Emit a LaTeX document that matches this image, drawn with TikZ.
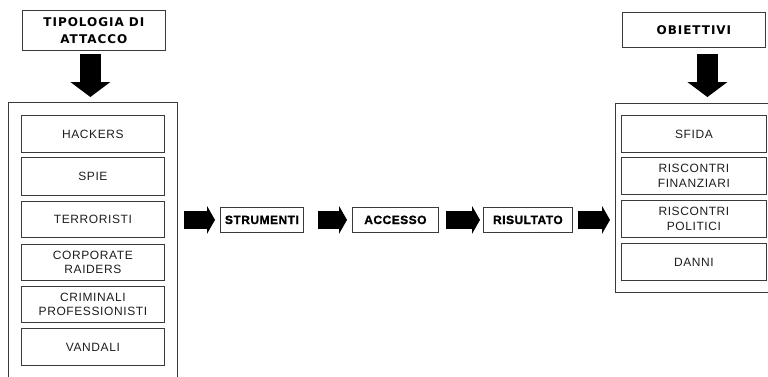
\documentclass[tikz,border=0pt]{standalone}
\usepackage{fontspec}
\usetikzlibrary{arrows.meta}
\newfontfamily\itemfont[LetterSpace=5]{Liberation Sans}
\newfontfamily\ttlfont[LetterSpace=8]{DejaVu Sans Bold}
\newfontfamily\midfont[LetterSpace=4,FakeBold=1.2]{Liberation Sans Bold}
\definecolor{edge}{HTML}{3A3A3A}
\definecolor{ink}{HTML}{1E1E1E}
\tikzset{
  box/.style={draw=edge, line width=0.8pt, anchor=north west, inner sep=0pt, align=center, fill=white},
  item/.style={box, text=ink, font=\fontsize{12}{14.5}\selectfont\itemfont},
  ttl/.style={box, text=black, font=\fontsize{12}{16.5}\selectfont\ttlfont},
  mid/.style={box, text=black, font=\fontsize{12}{13}\selectfont\midfont, minimum height=25pt},
  container/.style={draw=edge, line width=0.8pt, anchor=north west, inner sep=0pt},
  blockarrow/.style={line width=18pt, line cap=butt, black, -{Triangle[length=8pt,width=28pt,line width=0pt]}},
  downarrow/.style={line width=21pt, line cap=butt, black, -{Triangle[length=15pt,width=40pt,line width=0pt]}},
}
\begin{document}
\begin{tikzpicture}[x=1pt,y=-1pt]
\useasboundingbox (0,0) rectangle (768,376);
\clip (0,0) rectangle (768,376);
\fill[white] (0,0) rectangle (768,376);

% left column
\node[ttl, minimum width=143pt, minimum height=40pt] (tipo) at (22,10) {TIPOLOGIA DI\\ATTACCO};
\node[container, minimum width=169pt, minimum height=300pt] (lc) at (8,102) {};
\node[item, minimum width=143pt, minimum height=37pt] (hack) at (21,115) {HACKERS};
\node[item, minimum width=143pt, minimum height=38pt] (spie) at (21,157) {SPIE};
\node[item, minimum width=143pt, minimum height=36pt] (terr) at (21,201) {TERRORISTI};
\node[item, minimum width=143pt, minimum height=36pt] (corp) at (21,244) {CORPORATE\\RAIDERS};
\node[item, minimum width=143pt, minimum height=36pt] (crim) at (21,286) {CRIMINALI\\PROFESSIONISTI};
\node[item, minimum width=143pt, minimum height=37pt] (vand) at (21,328) {VANDALI};

% middle chain
\node[mid, minimum width=83pt] (strum) at (220,207) {STRUMENTI};
\node[mid, minimum width=86pt] (acc) at (352,207) {ACCESSO};
\node[mid, minimum width=89pt] (ris) at (483,207) {RISULTATO};

% right column
\node[ttl, minimum width=143pt, minimum height=35pt] (obi) at (622,12) {OBIETTIVI};
\node[container, minimum width=200pt, minimum height=189pt] (rc) at (615,103) {};
\node[item, minimum width=145pt, minimum height=37pt] (sfida) at (621,115) {SFIDA};
\node[item, minimum width=145pt, minimum height=37pt] (fin) at (621,157) {RISCONTRI\\FINANZIARI};
\node[item, minimum width=145pt, minimum height=37pt] (pol) at (621,200) {RISCONTRI\\POLITICI};
\node[item, minimum width=145pt, minimum height=37pt] (danni) at (621,243) {DANNI};

% down arrows
\draw[downarrow, shorten <=3pt, shorten >=5pt] ([xshift=-3.5pt]tipo.south) -- ([xshift=-3.5pt]tipo.south |- lc.north);
\draw[downarrow, shorten <=6pt, shorten >=6pt] ([xshift=13.5pt]obi.south) -- ([xshift=13.5pt]obi.south |- rc.north);

% horizontal block arrows
\draw[blockarrow, shorten <=6pt, shorten >=5pt] (lc.east |- strum.west) -- (strum.west);
\draw[blockarrow, shorten <=14pt, shorten >=5pt] (strum.east) -- (acc.west);
\draw[blockarrow, shorten <=7pt, shorten >=3pt] (acc.east) -- (ris.west);
\draw[blockarrow, shorten <=5pt, shorten >=5pt] (ris.east) -- (rc.west |- ris.east);
\end{tikzpicture}
\end{document}
